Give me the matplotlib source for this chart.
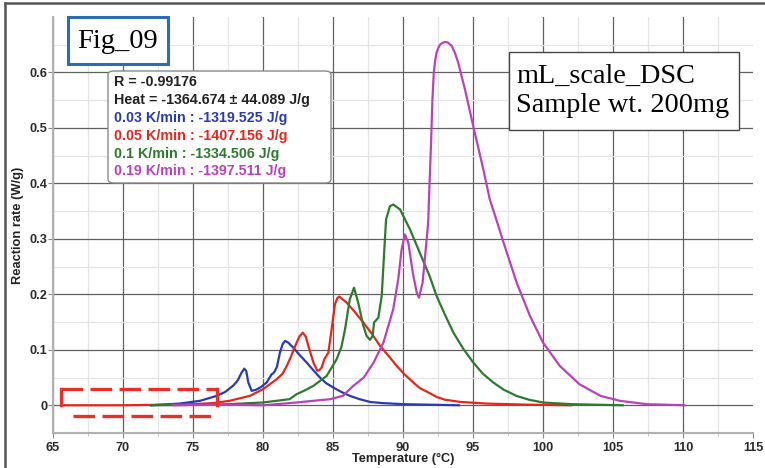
import numpy as np
import matplotlib
matplotlib.use('Agg')
import matplotlib.pyplot as plt
from matplotlib.patches import FancyBboxPatch, Rectangle
from matplotlib.lines import Line2D

plt.rcParams['font.family'] = ['Liberation Sans', 'DejaVu Sans']

# --- data (temperature degC, reaction rate W/g) ---
blue_T = [72.0, 74.0, 75.5, 76.7, 77.3, 77.6, 77.9, 78.2, 78.45, 78.66, 78.8, 78.95, 79.19,
          79.5, 79.8, 80.26, 80.62, 80.75, 80.86, 81.0, 81.21, 81.4, 81.57, 81.8, 82.16, 82.6,
          83.12, 83.6, 84.07, 84.5, 85.02, 85.6, 86.2, 86.9, 87.64, 88.5, 90.0, 92.0, 94.0]
blue_y = [0.0, 0.003, 0.008, 0.017, 0.024, 0.03, 0.036, 0.045, 0.058, 0.066, 0.062, 0.041, 0.026,
          0.028, 0.032, 0.041, 0.056, 0.058, 0.062, 0.07, 0.095, 0.11, 0.116, 0.113, 0.104, 0.091,
          0.077, 0.063, 0.05, 0.04, 0.032, 0.024, 0.017, 0.011, 0.006, 0.004, 0.002, 0.001, 0.0]

red_T = [65.6, 70.0, 73.0, 75.0, 76.5, 77.6, 79.07, 80.0, 80.98, 81.4, 81.7, 82.0, 82.3, 82.6,
         82.84, 83.05, 83.24, 83.6, 83.88, 84.05, 84.19, 84.38, 84.67, 84.9, 85.14, 85.3, 85.45,
         85.98, 86.5, 87.17, 87.8, 88.36, 89.0, 89.55, 90.1, 90.74, 91.2, 91.9, 92.4, 93.0, 94.1,
         96.0, 99.0, 102.0]
red_y = [0.0, 0.0, 0.001, 0.002, 0.004, 0.008, 0.017, 0.029, 0.047, 0.057, 0.071, 0.088, 0.107,
         0.124, 0.131, 0.124, 0.107, 0.077, 0.062, 0.064, 0.068, 0.083, 0.095, 0.137, 0.182, 0.193,
         0.196, 0.185, 0.17, 0.149, 0.128, 0.107, 0.088, 0.071, 0.056, 0.041, 0.031, 0.022, 0.015,
         0.01, 0.006, 0.003, 0.001, 0.0]

green_T = [72.0, 76.0, 77.6, 80.0, 81.9, 82.4, 83.0, 83.6, 84.55, 85.26, 85.6, 85.86, 86.2, 86.5,
           86.8, 87.17, 87.4, 87.64, 87.83, 87.93, 88.24, 88.48, 88.64, 88.79, 89.07, 89.31, 89.79,
           90.5, 91.2, 91.9, 92.4, 93.0, 93.6, 94.3, 95.02, 95.7, 96.45, 97.2, 98.1, 99.0, 100.0,
           102.0, 105.7]
green_y = [0.0, 0.001, 0.002, 0.005, 0.011, 0.02, 0.027, 0.035, 0.053, 0.083, 0.105, 0.137, 0.191,
           0.212, 0.185, 0.143, 0.125, 0.118, 0.125, 0.149, 0.158, 0.197, 0.269, 0.335, 0.359, 0.362,
           0.353, 0.317, 0.275, 0.233, 0.197, 0.163, 0.131, 0.102, 0.077, 0.057, 0.041, 0.028, 0.017,
           0.01, 0.005, 0.002, 0.0]

mag_T = [73.6, 77.0, 80.0, 82.4, 84.8, 85.7, 86.45, 87.2, 87.9, 88.6, 89.3, 89.66, 89.9, 90.14,
         90.38, 90.7, 90.98, 91.14, 91.4, 91.69, 91.8, 91.88, 92.0, 92.1, 92.2, 92.3, 92.4, 92.5,
         92.64, 92.8, 93.0, 93.2, 93.48, 93.7, 93.95, 94.43, 95.02, 95.74, 96.2, 96.6, 97.16, 98.12,
         99.07, 100.0, 101.2, 102.6, 104.1, 105.5, 107.4, 110.1]
mag_y = [0.0, 0.001, 0.0, 0.005, 0.011, 0.017, 0.035, 0.05, 0.077, 0.113, 0.173, 0.227, 0.281,
         0.308, 0.293, 0.239, 0.203, 0.194, 0.221, 0.299, 0.33, 0.389, 0.47, 0.55, 0.6, 0.622, 0.636,
         0.643, 0.65, 0.653, 0.655, 0.654, 0.648, 0.636, 0.617, 0.569, 0.503, 0.425, 0.371, 0.34,
         0.295, 0.221, 0.161, 0.113, 0.071, 0.038, 0.017, 0.008, 0.002, 0.0]

series = [
    (blue_T, blue_y, '#2b3bb0', '0.03 K/min : -1319.525 J/g'),
    (red_T, red_y, '#e5261f', '0.05 K/min : -1407.156 J/g'),
    (green_T, green_y, '#2e7a2e', '0.1 K/min : -1334.506 J/g'),
    (mag_T, mag_y, '#b843b8', '0.19 K/min : -1397.511 J/g'),
]
info_lines = ['R = -0.99176', 'Heat = -1364.674 ± 44.089 J/g']

W, H = 765, 468


def fx(px):
    return px / W


def fy(py):
    return 1 - py / H


fig = plt.figure(figsize=(7.65, 4.68), dpi=100)
ax = fig.add_axes([fx(53), fy(433), fx(753) - fx(53), fy(17) - fy(433)])

for T, y, c, _ in series:
    ax.plot(T, y, color=c, lw=1.6, zorder=3, solid_joinstyle='round')

# red dashed highlight box near the baseline
box_c = '#e8302a'
dash = (0, (6.5, 2.2))
ax.plot([65.6, 76.8], [0.029, 0.029], color=box_c, lw=2.4, ls=dash, zorder=4)
ax.plot([66.4, 76.8], [-0.02, -0.02], color=box_c, lw=2.4, ls=dash, zorder=4)
ax.plot([65.6, 65.6], [0.0, 0.029], color=box_c, lw=2.4, zorder=4)
ax.plot([76.7, 76.7], [0.0, 0.029], color=box_c, lw=2.4, zorder=4)

ax.set_xlim(65, 115)
ax.set_ylim(-0.05, 0.7)
ax.set_xticks(np.arange(65, 116, 5))
ax.set_xticks(np.arange(67.5, 115, 5), minor=True)
ax.set_yticks([0, 0.1, 0.2, 0.3, 0.4, 0.5, 0.6])
ax.set_yticklabels(['0', '0.1', '0.2', '0.3', '0.4', '0.5', '0.6'])
ax.set_yticks(np.arange(-0.05, 0.66, 0.1), minor=True)
ax.grid(True, which='major', color='#606060', lw=0.9, zorder=1)
ax.grid(True, which='minor', color='#e4e4e4', lw=0.9, zorder=0)
ax.set_axisbelow(True)
ax.get_xgridlines()[-1].set_visible(False)
for s in ['top', 'right']:
    ax.spines[s].set_visible(False)
for s in ['left', 'bottom']:
    ax.spines[s].set_color('#b0b0b0')
    ax.spines[s].set_linewidth(1.5)
ax.tick_params(which='major', length=3.5, color='#888888', labelsize=9.2, labelcolor='#2a2a2a')
ax.tick_params(axis='x', which='major', pad=3)
ax.tick_params(axis='y', which='major', pad=0.5)
ax.tick_params(which='minor', length=2, color='#bbbbbb')
ax.tick_params(axis='y', which='minor', length=0)
for lab in ax.get_xticklabels() + ax.get_yticklabels():
    lab.set_fontweight('bold')

fig.text(fx(403), fy(459), 'Temperature (°C)', ha='center', va='center',
         fontsize=9.2, fontweight='bold', color='#222222')
fig.text(fx(18), fy(225), 'Reaction rate (W/g)', ha='center', va='center',
         rotation=90, fontsize=9.3, fontweight='bold', color='#222222')

# info box with fit results
leg = FancyBboxPatch((fx(108), fy(183)), fx(331) - fx(108), fy(71) - fy(183),
                     boxstyle='round,pad=0,rounding_size=0.008', transform=fig.transFigure,
                     fc='white', ec='#888888', lw=1.0, zorder=5)
fig.patches.append(leg)
lines = [(t, '#222222') for t in info_lines] + [(lab, c) for _, _, c, lab in series]
for i, (txt, c) in enumerate(lines):
    fig.text(fx(114), fy(82 + i * 17.9), txt, ha='left', va='center', fontsize=10.3,
             fontweight='bold', color=c, zorder=6)

# Fig_09 box
fig.patches.append(Rectangle((fx(68), fy(64)), fx(168) - fx(68), fy(17) - fy(64),
                             transform=fig.transFigure, fc='white', ec='#2a6db5', lw=2.2, zorder=5))
fig.text(fx(117), fy(41), 'Fig_09', ha='center', va='center', fontsize=20.5,
         family='Liberation Serif', color='black', zorder=6)

# sample info box
fig.patches.append(Rectangle((fx(509), fy(130)), fx(739) - fx(509), fy(52) - fy(130),
                             transform=fig.transFigure, fc='white', ec='#444444', lw=1.0, zorder=5))
fig.text(fx(516), fy(76), 'mL_scale_DSC', ha='left', va='center', fontsize=20.3,
         family='Liberation Serif', color='black', zorder=6)
fig.text(fx(516), fy(106), 'Sample wt. 200mg', ha='left', va='center', fontsize=20.3,
         family='Liberation Serif', color='black', zorder=6)

# outer frame (left and top edges visible)
fig.lines.append(Line2D([fx(5), fx(5)], [0, fy(3)], transform=fig.transFigure, color='#555555', lw=1.8))
fig.lines.append(Line2D([fx(5), 1], [fy(3), fy(3)], transform=fig.transFigure, color='#555555', lw=1.8))

fig.savefig('out.png', dpi=100)
